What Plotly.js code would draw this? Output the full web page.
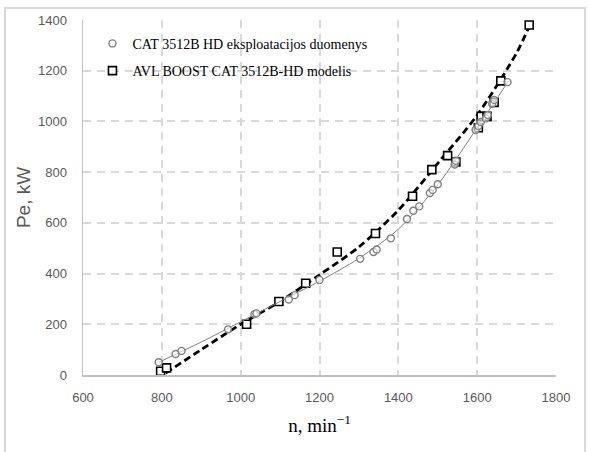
<!DOCTYPE html>
<html>
<head>
<meta charset="utf-8">
<script src="https://cdn.plot.ly/plotly-3.0.1.min.js"></script>
<style>
  html, body { margin: 0; padding: 0; background: #ffffff; }
  #wrap { position: relative; width: 589px; height: 452px; }
  #chart { width: 589px; height: 452px; }
  #frame { position: absolute; left: 4px; top: 7px; width: 582px; height: 450px;
           border: 2px solid #d9d9d9; pointer-events: none; box-sizing: border-box; }
</style>
</head>
<body>
<div id="wrap">
  <div id="chart"></div>
  <div id="frame"></div>
</div>
<script>
// Measured engine data (circles)
const measName = "CAT 3512B HD eksploatacijos duomenys";
const measN  = [792, 835, 850, 968, 1035, 1040, 1122, 1137, 1200, 1303, 1337, 1345, 1381, 1422, 1438, 1453, 1480, 1487, 1500, 1543, 1546, 1596, 1603, 1609, 1622, 1627, 1638, 1643, 1677];
const measPe = [50, 83, 95, 180, 240, 243, 298, 315, 375, 458, 485, 495, 539, 615, 648, 665, 718, 730, 752, 830, 845, 966, 982, 998, 1012, 1025, 1070, 1085, 1155];

// Trend line (thin grey)
const measFitN  = [792, 900, 1000, 1100, 1200, 1300, 1400, 1500, 1600, 1680];
const measFitPe = [50, 130, 210, 290, 370, 460, 575, 750, 975, 1160];

// AVL BOOST model data (squares)
const modName = "AVL BOOST CAT 3512B-HD modelis";
const modN  = [797, 812, 1015, 1097, 1165, 1245, 1342, 1436, 1485, 1525, 1546, 1603, 1610, 1625, 1643, 1660, 1732];
const modPe = [15, 28, 200, 290, 362, 485, 558, 705, 810, 865, 840, 975, 1020, 1020, 1075, 1160, 1380];

// Trend line (thick dashed black)
const modFitN  = [810, 900, 1000, 1100, 1200, 1300, 1400, 1500, 1600, 1700, 1735];
const modFitPe = [8, 100, 200, 290, 395, 505, 650, 835, 1025, 1270, 1385];

// Axis ticks
const xTicks = [600, 800, 1000, 1200, 1400, 1600, 1800];
const yTicks = [0, 200, 400, 600, 800, 1000, 1200, 1400];

const traces = [
  { x: modFitN, y: modFitPe, mode: "lines", type: "scatter", showlegend: false, hoverinfo: "skip",
    line: { color: "#000000", width: 2.8, dash: "7px,4px", shape: "spline", smoothing: 0.8 } },
  { x: modN, y: modPe, mode: "markers", type: "scatter", name: modName, legendrank: 2, legendgroup: "b",
    marker: { symbol: "square", size: 8, color: "#ffffff", line: { color: "#000000", width: 1.6 } } },
  { x: measFitN, y: measFitPe, mode: "lines", type: "scatter", showlegend: false, hoverinfo: "skip",
    line: { color: "#7f7f7f", width: 1, shape: "spline", smoothing: 0.8 } },
  { x: measN, y: measPe, mode: "markers", type: "scatter", name: measName, legendrank: 1, legendgroup: "a",
    marker: { symbol: "circle", size: 7, color: "rgba(255,255,255,0.6)", line: { color: "#7f7f7f", width: 1.4 } } }
];

const layout = {
  width: 589, height: 452,
  margin: { l: 83, r: 33, t: 20, b: 77 },
  paper_bgcolor: "#ffffff", plot_bgcolor: "#ffffff",
  showlegend: true,
  legend: { x: 0.02, y: 0.978, xanchor: "left", yanchor: "top", bgcolor: "rgba(255,255,255,0)",
            font: { family: "Liberation Serif, serif", size: 14, color: "#000000" },
            tracegroupgap: 6, itemwidth: 30 },
  xaxis: {
    range: [600, 1800], tickvals: xTicks, ticktext: xTicks.map(String),
    showgrid: true, gridcolor: "#d9d9d9", gridwidth: 2, griddash: "8px,6px",
    showline: true, linecolor: "#bfbfbf", linewidth: 1.5, zeroline: false,
    ticks: "", ticklabelstandoff: 10,
    tickfont: { family: "Liberation Sans, sans-serif", size: 13, color: "#595959" },
    title: { text: "n, min<sup>\u22121</sup>", standoff: 14,
             font: { family: "Liberation Serif, serif", size: 19, color: "#000000" } }
  },
  yaxis: {
    range: [0, 1400], tickvals: yTicks, ticktext: yTicks.map(String),
    showgrid: true, gridcolor: "#d9d9d9", gridwidth: 2, griddash: "8px,6px",
    showline: true, linecolor: "#bfbfbf", linewidth: 1.5, zeroline: false,
    ticks: "", ticklabelstandoff: 12,
    tickfont: { family: "Liberation Sans, sans-serif", size: 13, color: "#595959" },
    title: { text: "Pe, kW", standoff: 2,
             font: { family: "Liberation Sans, sans-serif", size: 19, color: "#595959" } }
  }
};

Plotly.newPlot("chart", traces, layout, { staticPlot: true, displayModeBar: false });
</script>
</body>
</html>
